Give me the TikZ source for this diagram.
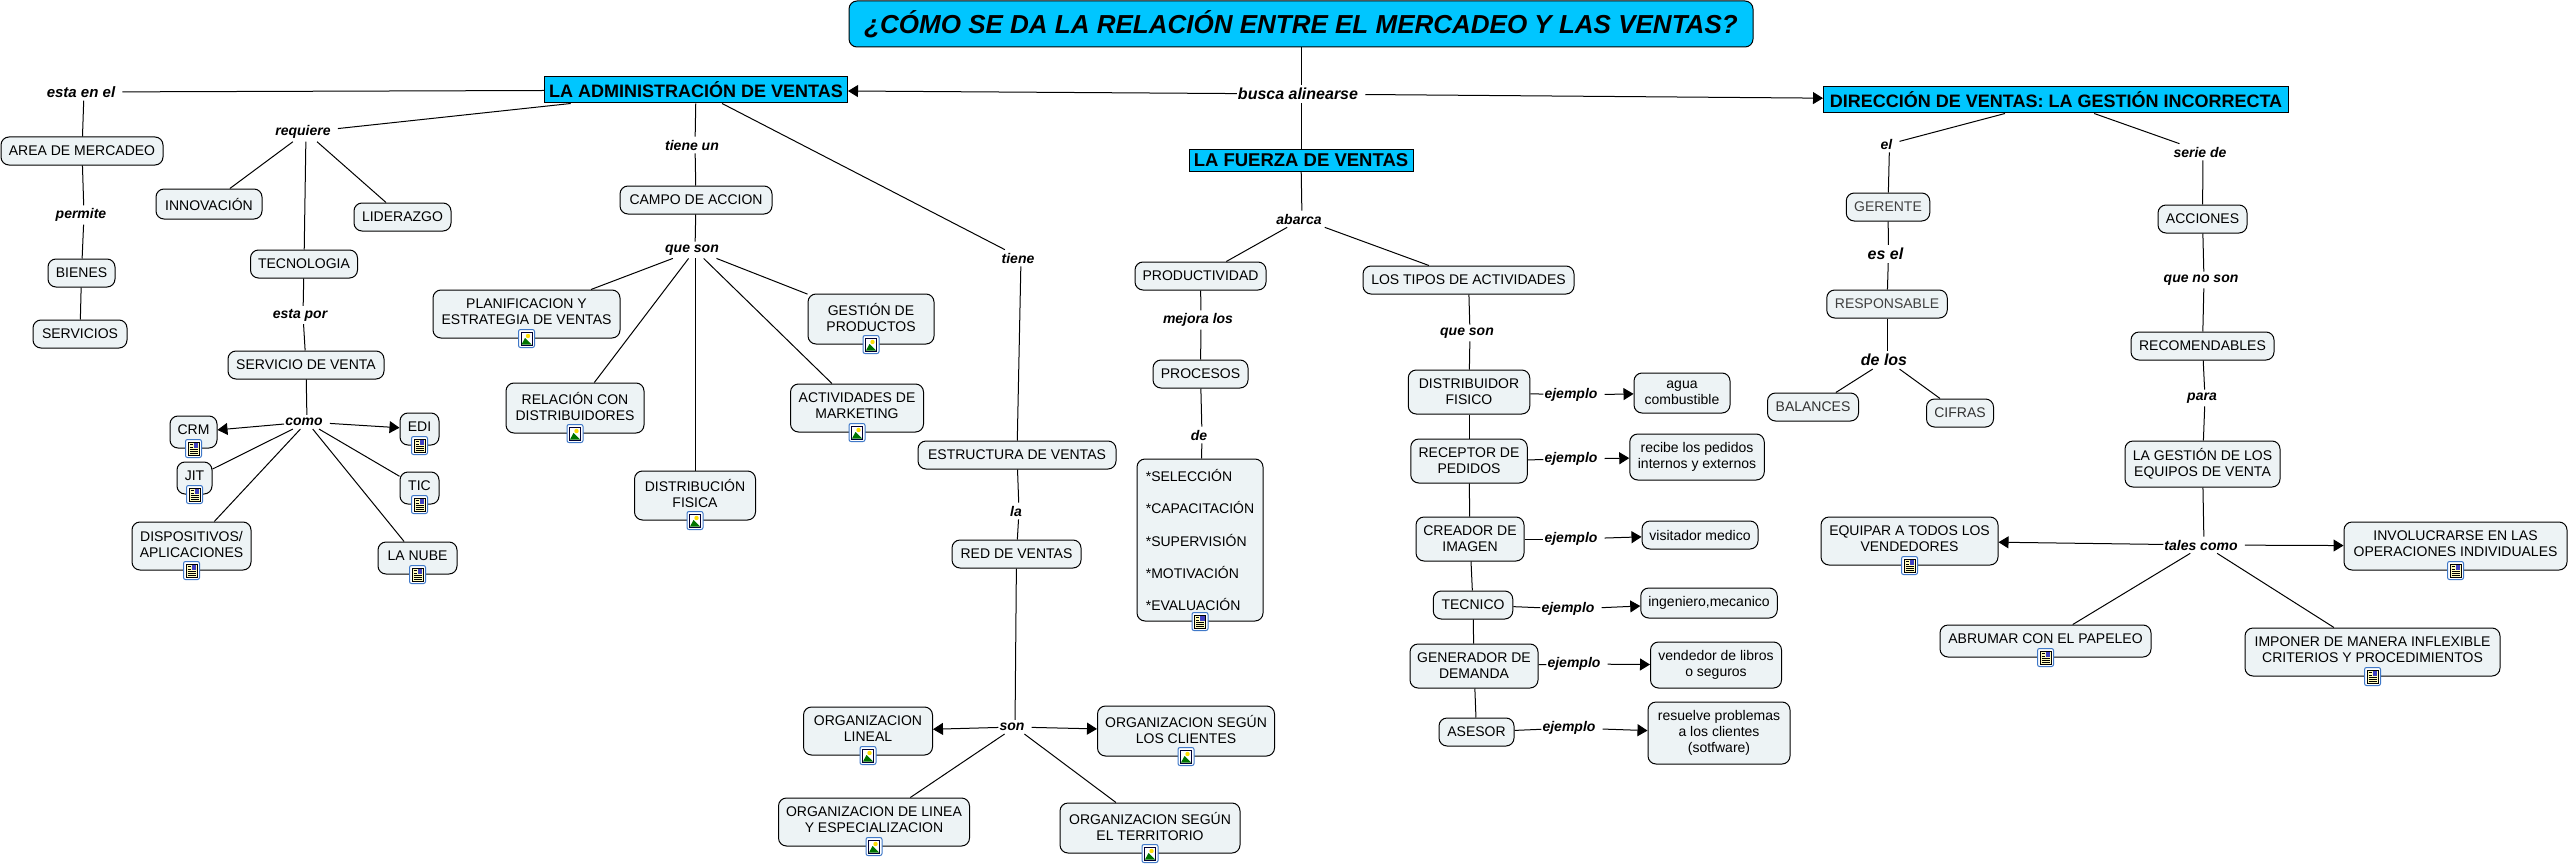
\documentclass[tikz,border=0pt]{standalone}
\usepackage{fontspec}
\setmainfont{Liberation Sans}
\usetikzlibrary{arrows.meta}

\definecolor{conceptfill}{HTML}{EDF3F5}
\definecolor{topicfill}{HTML}{00C6FF}
\definecolor{iconblue}{HTML}{3F78C8}

\tikzset{
    concept/.style={draw=black, line width=1pt, fill=conceptfill, rounded corners=8pt, align=center,
        inner sep=2pt, font=\fontsize{14}{16}\selectfont},
    withicon/.style={concept, text depth=4pt},
    topic/.style={draw=black, line width=1pt, fill=topicfill, inner sep=2pt, font=\bfseries\fontsize{18}{20}\selectfont},
    linkword/.style={inner xsep=1pt, inner ysep=3pt, xshift=3pt, execute at end node={\hspace{6pt}},
        font=\bfseries\itshape\fontsize{14}{16}\selectfont},
    biglink/.style={linkword, font=\bfseries\itshape\fontsize{16}{18}\selectfont},
    line/.style={black, line width=1pt},
    arrow/.style={line, -{Triangle[length=10pt, width=12pt]}}
}

% little picture marker on the lower edge of a box
\newcommand{\imgicon}[1]{
    \begin{scope}[shift={(#1.south)}]
        \draw[iconblue, fill=white, line width=1pt, rounded corners=2pt] (-8, -9) rectangle (8, 9);
        \draw[black!80!blue, fill=white, line width=1pt] (-5.5, -6.5) rectangle (5.5, 6.5);
        \fill[yellow!80!orange] (1.5, -2.5) circle (2.2pt);
        \fill[green!45!black] (-5, 6) -- (-1.5, -0.5) -- (5, 6) -- cycle;
    \end{scope}
}

% little document marker on the lower edge of a box
\newcommand{\docicon}[1]{
    \begin{scope}[shift={(#1.south)}]
        \draw[iconblue, fill=white, line width=1pt, rounded corners=2pt] (-8, -9) rectangle (8, 9);
        \draw[black, fill=yellow!25, line width=0.8pt] (-5.5, -6.5) rectangle (5.5, 6.5);
        \fill[blue!50!gray] (0, -5.5) rectangle (4.5, -0.5);
        \draw[black, line width=0.9pt] (-4, -4) -- (-1, -4) (-4, -1.5) -- (-1, -1.5)
            (-4, 1) -- (4, 1) (-4, 3) -- (4, 3) (-4, 5) -- (4, 5);
    \end{scope}
}

\begin{document}
\begin{tikzpicture}[x=1pt, y=-1pt]
    \useasboundingbox (0, 0) rectangle (2569, 864);

    % top of the map
    \node[concept, fill=topicfill, minimum width=904pt, minimum height=46pt, font=\bfseries\itshape\fontsize{26}{28}\selectfont] (pregunta) at (1301, 24) {¿CÓMO SE DA LA RELACIÓN ENTRE EL MERCADEO Y LAS VENTAS?};
    \node[linkword, font=\bfseries\itshape\fontsize{16}{18}\selectfont] (busca) at (1298, 94) {busca alinearse};
    \node[topic, minimum width=303pt, minimum height=26pt] (admin) at (696, 90) {LA ADMINISTRACIÓN DE VENTAS};
    \node[topic, minimum width=224pt, minimum height=22pt, font=\bfseries\fontsize{18.5}{20}\selectfont] (fuerza) at (1301, 160) {LA FUERZA DE VENTAS~};
    \node[topic, minimum width=465pt, minimum height=26pt] (direccion) at (2056, 100) {DIRECCIÓN DE VENTAS: LA GESTIÓN INCORRECTA};

    % left branch
    \node[linkword, font=\bfseries\itshape\fontsize{15}{17}\selectfont] (estaen) at (81, 92) {esta en el};
    \node[concept, minimum width=162pt, minimum height=28pt] (area) at (82, 151) {AREA DE MERCADEO};
    \node[linkword] (permite) at (81, 215) {permite};
    \node[concept, minimum width=67pt, minimum height=28pt] (bienes) at (81.5, 273) {BIENES};
    \node[concept, minimum width=94pt, minimum height=28pt] (servicios) at (80, 334) {SERVICIOS};

    \node[linkword] (requiere) at (303, 132) {requiere};
    \node[concept, minimum width=106pt, minimum height=30pt] (innovacion) at (209, 204) {INNOVACIÓN};
    \node[concept, minimum width=97pt, minimum height=28pt] (liderazgo) at (402.5, 217) {LIDERAZGO};
    \node[concept, minimum width=107pt, minimum height=28pt] (tecnologia) at (304, 264) {TECNOLOGIA};
    \node[linkword] (estapor) at (300, 315) {esta por};
    \node[concept, minimum width=156pt, minimum height=28pt] (servicio) at (306, 365) {SERVICIO DE VENTA};
    \node[linkword] (como) at (304, 422) {como};
    \node[withicon, minimum width=47pt, minimum height=32pt] (crm) at (193.5, 432) {CRM};
    \node[withicon, minimum width=39pt, minimum height=32pt] (edi) at (419.5, 429) {EDI};
    \node[withicon, minimum width=35pt, minimum height=32pt] (jit) at (194.5, 478) {JIT};
    \node[withicon, minimum width=39pt, minimum height=32pt] (tic) at (419.5, 488) {TIC};
    \node[withicon, minimum width=119pt, minimum height=48pt] (dispositivos) at (191.5, 546) {DISPOSITIVOS/\\APLICACIONES};
    \node[withicon, minimum width=79pt, minimum height=32pt] (nube) at (417.5, 558) {LA NUBE};

    \node[linkword] (tieneun) at (692, 145) {tiene un};
    \node[concept, minimum width=152pt, minimum height=28pt] (campo) at (696, 200) {CAMPO DE ACCION};
    \node[linkword] (queson) at (692, 250) {que son};
    \node[withicon, minimum width=187pt, minimum height=48pt] (planificacion) at (526.5, 314) {PLANIFICACION Y\\ESTRATEGIA DE VENTAS};
    \node[withicon, minimum width=138pt, minimum height=50pt] (relacion) at (575, 408) {RELACIÓN CON\\DISTRIBUIDORES};
    \node[withicon, minimum width=121pt, minimum height=49pt] (distribucion) at (695, 495.5) {DISTRIBUCIÓN\\FISICA};
    \node[withicon, minimum width=126pt, minimum height=50pt] (gestion) at (871, 319) {GESTIÓN DE\\PRODUCTOS};
    \node[withicon, minimum width=133pt, minimum height=48pt] (actividades) at (857, 408) {ACTIVIDADES DE\\MARKETING};

    \node[linkword] (tiene) at (1018, 258) {tiene};
    \node[concept, minimum width=198pt, minimum height=28pt] (estructura) at (1017, 455) {ESTRUCTURA DE VENTAS};
    \node[linkword] (la) at (1016, 511) {la};
    \node[concept, minimum width=129pt, minimum height=28pt] (red) at (1016.5, 554) {RED DE VENTAS};
    \node[linkword] (son) at (1012, 727) {son};
    \node[withicon, minimum width=129pt, minimum height=48pt] (lineal) at (868, 731) {ORGANIZACION\\LINEAL};
    \node[withicon, minimum width=177pt, minimum height=50pt] (clientes) at (1186, 731) {ORGANIZACION SEGÚN\\LOS CLIENTES};
    \node[withicon, minimum width=191pt, minimum height=48pt] (linea) at (874, 822) {ORGANIZACION DE LINEA\\Y ESPECIALIZACION};
    \node[withicon, minimum width=180pt, minimum height=50pt] (territorio) at (1150, 828) {ORGANIZACION SEGÚN\\EL TERRITORIO};

    % middle branch
    \node[linkword] (abarca) at (1299, 219) {abarca};
    \node[concept, minimum width=131pt, minimum height=28pt] (productividad) at (1200.5, 276) {PRODUCTIVIDAD};
    \node[linkword] (mejora) at (1198, 320) {mejora los};
    \node[concept, minimum width=95pt, minimum height=28pt] (procesos) at (1200.5, 374) {PROCESOS};
    \node[linkword] (de) at (1199, 435) {de};
    \node[concept, minimum width=126pt, minimum height=162pt, align=left] (lista) at (1200, 540) {*SELECCIÓN\\[16.2pt]*CAPACITACIÓN\\[16.2pt]*SUPERVISIÓN\\[16.2pt]*MOTIVACIÓN\\[16.2pt]*EVALUACIÓN};

    \node[concept, minimum width=211pt, minimum height=28pt] (tipos) at (1468.5, 280) {LOS TIPOS DE ACTIVIDADES};
    \node[linkword] (quesontipos) at (1467, 333) {que son};
    \node[concept, minimum width=121.5pt, minimum height=44pt] (fisico) at (1469, 392) {DISTRIBUIDOR\\FISICO};
    \node[concept, minimum width=116.5pt, minimum height=44pt] (receptor) at (1469, 461) {RECEPTOR DE\\PEDIDOS};
    \node[concept, minimum width=108pt, minimum height=44pt] (creador) at (1470, 539) {CREADOR DE\\IMAGEN};
    \node[concept, minimum width=79.5pt, minimum height=28pt] (tecnico) at (1473, 605) {TECNICO};
    \node[concept, minimum width=128pt, minimum height=44pt] (generador) at (1474, 666) {GENERADOR DE\\DEMANDA};
    \node[concept, minimum width=75pt, minimum height=28pt] (asesor) at (1476.5, 732) {ASESOR};

    \node[linkword] (ejuno) at (1571, 395) {ejemplo};
    \node[linkword] (ejdos) at (1571, 459) {ejemplo};
    \node[linkword] (ejtres) at (1571, 539) {ejemplo};
    \node[linkword] (ejcuatro) at (1568, 609) {ejemplo};
    \node[linkword] (ejcinco) at (1574, 664) {ejemplo};
    \node[linkword] (ejseis) at (1569, 728) {ejemplo};

    \node[concept, minimum width=96pt, minimum height=40pt] (agua) at (1682, 393) {agua\\combustible};
    \node[concept, minimum width=134.5pt, minimum height=46pt] (recibe) at (1697, 457) {recibe los pedidos\\internos y externos};
    \node[concept, minimum width=116pt, minimum height=28pt] (visitador) at (1700, 535) {visitador medico};
    \node[concept, minimum width=136.5pt, minimum height=30pt] (ingeniero) at (1709, 603) {ingeniero,mecanico};
    \node[concept, minimum width=131pt, minimum height=46pt] (vendedor) at (1716, 665) {vendedor de libros\\o seguros};
    \node[concept, minimum width=142pt, minimum height=62pt] (resuelve) at (1719, 733) {resuelve problemas\\a los clientes\\(sotfware)};

    % right branch
    \node[linkword] (elgerente) at (1886.5, 144) {el};
    \node[concept, text=black!75, minimum width=83.5pt, minimum height=28pt] (gerente) at (1888, 207) {GERENTE};
    \node[biglink] (esel) at (1885.5, 254) {es el};
    \node[concept, text=black!75, minimum width=120.5pt, minimum height=28pt] (responsable) at (1887, 304) {RESPONSABLE};
    \node[biglink] (delos) at (1884, 360) {de los};
    \node[concept, text=black!80, minimum width=91pt, minimum height=28pt] (balances) at (1813, 407) {BALANCES};
    \node[concept, text=black!80, minimum width=67pt, minimum height=28pt] (cifras) at (1960, 413) {CIFRAS};

    \node[linkword] (serie) at (2200, 152) {serie de};
    \node[concept, minimum width=89pt, minimum height=28pt] (acciones) at (2202.5, 219) {ACCIONES};
    \node[linkword] (queno) at (2201, 280) {que no son};
    \node[concept, minimum width=143pt, minimum height=28pt] (recomendables) at (2202.5, 346) {RECOMENDABLES};
    \node[linkword] (para) at (2202, 398) {para};
    \node[concept, minimum width=155pt, minimum height=46pt] (equipos) at (2202.5, 464) {LA GESTIÓN DE LOS\\EQUIPOS DE VENTA};
    \node[linkword] (tales) at (2201, 545) {tales como};
    \node[withicon, minimum width=177pt, minimum height=48pt] (equipar) at (1909.5, 541) {EQUIPAR A TODOS LOS\\VENDEDORES};
    \node[withicon, minimum width=223pt, minimum height=48pt] (involucrarse) at (2455.5, 546) {INVOLUCRARSE EN LAS\\OPERACIONES INDIVIDUALES};
    \node[withicon, minimum width=211pt, minimum height=32pt] (abrumar) at (2045.5, 641) {ABRUMAR CON EL PAPELEO};
    \node[withicon, minimum width=255pt, minimum height=48pt] (imponer) at (2372.5, 652) {IMPONER DE MANERA INFLEXIBLE\\CRITERIOS Y PROCEDIMIENTOS};

    % connectors
    \draw[line] (pregunta) -- (busca);
    \draw[line] (busca) -- (fuerza);
    \draw[arrow] (busca) -- (admin);
    \draw[arrow] (busca) -- (direccion);

    \draw[line] (admin) -- (estaen);
    \draw[line] (estaen) -- (area);
    \draw[line] (area) -- (permite);
    \draw[line] (permite) -- (bienes);
    \draw[line] (bienes) -- (servicios);

    \draw[line] (admin) -- (requiere);
    \draw[line] (requiere) -- (innovacion);
    \draw[line] (requiere) -- (liderazgo);
    \draw[line] (requiere) -- (tecnologia);
    \draw[line] (tecnologia) -- (estapor);
    \draw[line] (estapor) -- (servicio);
    \draw[line] (servicio) -- (como);
    \draw[arrow] (como) -- (crm);
    \draw[arrow] (como) -- (edi);
    \draw[line] (como) -- (jit);
    \draw[line] (como) -- (tic);
    \draw[line] (como) -- (dispositivos);
    \draw[line] (como) -- (nube);

    \draw[line] (admin) -- (tieneun);
    \draw[line] (tieneun) -- (campo);
    \draw[line] (campo) -- (queson);
    \draw[line] (queson) -- (planificacion);
    \draw[line] (queson) -- (relacion);
    \draw[line] (queson) -- (distribucion);
    \draw[line] (queson) -- (gestion);
    \draw[line] (queson) -- (actividades);

    \draw[line] (admin) -- (tiene);
    \draw[line] (tiene) -- (estructura);
    \draw[line] (estructura) -- (la);
    \draw[line] (la) -- (red);
    \draw[line] (red) -- (son);
    \draw[arrow] (son) -- (lineal);
    \draw[arrow] (son) -- (clientes);
    \draw[line] (son) -- (linea);
    \draw[line] (son) -- (territorio);

    \draw[line] (fuerza) -- (abarca);
    \draw[line] (abarca) -- (productividad);
    \draw[line] (abarca) -- (tipos);
    \draw[line] (productividad) -- (mejora);
    \draw[line] (mejora) -- (procesos);
    \draw[line] (procesos) -- (de);
    \draw[line] (de) -- (lista);

    \draw[line] (tipos) -- (quesontipos);
    \draw[line] (quesontipos) -- (fisico);
    \draw[line] (fisico) -- (receptor);
    \draw[line] (receptor) -- (creador);
    \draw[line] (creador) -- (tecnico);
    \draw[line] (tecnico) -- (generador);
    \draw[line] (generador) -- (asesor);

    \draw[line] (fisico) -- (ejuno);
    \draw[arrow] (ejuno) -- (agua);
    \draw[line] (receptor) -- (ejdos);
    \draw[arrow] (ejdos) -- (recibe);
    \draw[line] (creador) -- (ejtres);
    \draw[arrow] (ejtres) -- (visitador);
    \draw[line] (tecnico) -- (ejcuatro);
    \draw[arrow] (ejcuatro) -- (ingeniero);
    \draw[line] (generador) -- (ejcinco);
    \draw[arrow] (ejcinco) -- (vendedor);
    \draw[line] (asesor) -- (ejseis);
    \draw[arrow] (ejseis) -- (resuelve);

    \draw[line] (direccion) -- (elgerente);
    \draw[line] (elgerente) -- (gerente);
    \draw[line] (gerente) -- (esel);
    \draw[line] (esel) -- (responsable);
    \draw[line] (responsable) -- (delos);
    \draw[line] (delos) -- (balances);
    \draw[line] (delos) -- (cifras);

    \draw[line] (direccion) -- (serie);
    \draw[line] (serie) -- (acciones);
    \draw[line] (acciones) -- (queno);
    \draw[line] (queno) -- (recomendables);
    \draw[line] (recomendables) -- (para);
    \draw[line] (para) -- (equipos);
    \draw[line] (equipos) -- (tales);
    \draw[arrow] (tales) -- (equipar);
    \draw[arrow] (tales) -- (involucrarse);
    \draw[line] (tales) -- (abrumar);
    \draw[line] (tales) -- (imponer);

    % markers
    \imgicon{planificacion}
    \imgicon{relacion}
    \imgicon{distribucion}
    \imgicon{gestion}
    \imgicon{actividades}
    \imgicon{lineal}
    \imgicon{clientes}
    \imgicon{linea}
    \imgicon{territorio}
    \docicon{crm}
    \docicon{edi}
    \docicon{jit}
    \docicon{tic}
    \docicon{dispositivos}
    \docicon{nube}
    \docicon{lista}
    \docicon{equipar}
    \docicon{involucrarse}
    \docicon{abrumar}
    \docicon{imponer}
\end{tikzpicture}
\end{document}
